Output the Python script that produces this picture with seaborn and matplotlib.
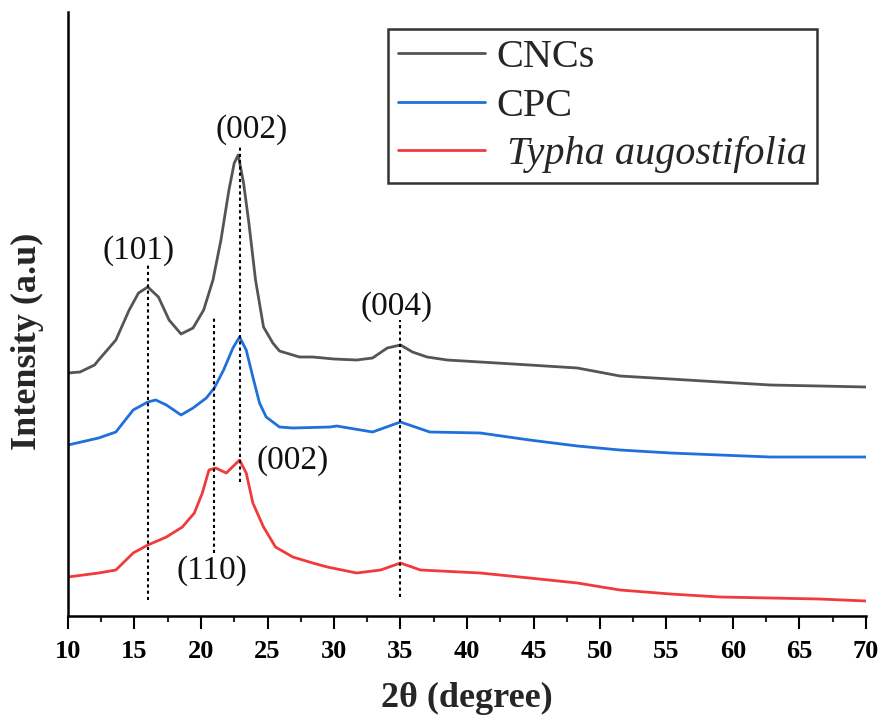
import matplotlib
matplotlib.use("Agg")
import matplotlib.pyplot as plt
from matplotlib.ticker import MultipleLocator
import seaborn as sns
import numpy as np

# XRD patterns (2θ in degrees, intensity in arbitrary stacked units)
cncs_2theta = [10.0, 10.9, 12.0, 12.3, 13.6, 14.6, 15.3, 16.0, 16.8, 17.6, 18.5, 19.4,
               20.2, 20.9, 21.5, 22.1, 22.5, 22.8, 23.2, 23.6, 24.1, 24.7, 25.4,
               25.9, 27.4, 28.4, 30.0, 31.7, 32.9, 34.0, 35.0, 35.9, 37.0, 38.5,
               41.0, 44.7, 48.3, 51.5, 55.3, 59.0, 62.8, 66.5, 70.0]
cncs_int = [243, 244, 251, 256, 276, 306, 323, 329, 319, 296, 282, 288,
            306, 336, 376, 426, 453, 461, 433, 393, 336, 289, 273,
            265, 259, 259, 257, 256, 258, 268, 271, 264, 259, 256,
            254, 251, 248, 240, 237, 234, 231, 230, 229]

cpc_2theta = [10.0, 12.3, 13.6, 14.9, 16.0, 16.6, 17.4, 18.5, 19.4, 20.4, 21.0, 21.7,
              22.4, 22.9, 23.4, 23.9, 24.4, 24.9, 25.9, 26.9, 29.7, 30.2, 32.9,
              35.0, 37.2, 41.0, 44.7, 48.3, 51.5, 55.3, 59.0, 62.8, 66.5, 70.0]
cpc_int = [171, 178, 184, 206, 214, 216, 211, 201, 208, 218, 228, 246,
           268, 279, 266, 239, 213, 199, 189, 188, 189, 190, 184,
           194, 184, 183, 176, 170, 166, 163, 161, 159, 159, 159]

typha_2theta = [10.0, 12.3, 13.6, 14.9, 16.0, 17.4, 18.6, 19.5, 20.1, 20.6, 21.1, 21.9,
                22.9, 23.4, 23.9, 24.7, 25.6, 26.9, 28.4, 29.5, 31.7, 33.5, 35.0,
                36.5, 41.0, 44.7, 48.3, 51.5, 55.3, 59.0, 62.8, 66.5, 70.0]
typha_int = [39, 43, 46, 63, 71, 79, 89, 103, 123, 146, 148, 143,
             156, 143, 113, 89, 69, 59, 53, 49, 43, 46, 53,
             46, 43, 38, 33, 26, 22, 19, 18, 17, 15]

series_names = ["CNCs", "CPC", " Typha augostifolia"]
series_colors = ["#555555", "#1f6fdc", "#ef3b3b"]

# Reference lines marking reflections: position, lower and upper extent
ref_pos = [16.0, 22.9, 21.0, 35.0]
ref_low = [16, 134, 63, 19]
ref_high = [351, 471, 298, 296]

# Miller index labels
hkl_text = ["(101)", "(002)", "(004)", "(002)", "(110)"]
hkl_x = [15.3, 23.8, 34.7, 26.9, 20.8]
hkl_y = [365, 486, 309, 155, 45]

x_ticks = list(range(10, 75, 5))

sns.set_style("ticks")
plt.rcParams["font.family"] = ["Liberation Serif", "DejaVu Serif"]

fig = plt.figure(figsize=(8.82, 7.19), dpi=100)
ax = fig.add_axes([68 / 882, 1 - 616 / 719, (866 - 68) / 882, (616 - 12) / 719])

for xs, ys, name, col in zip([cncs_2theta, cpc_2theta, typha_2theta],
                             [cncs_int, cpc_int, typha_int],
                             series_names, series_colors):
    sns.lineplot(x=xs, y=ys, ax=ax, color=col, lw=2.0, label=name, sort=False)

for xp, lo, hi in zip(ref_pos, ref_low, ref_high):
    ax.plot([xp, xp], [lo, hi], color="black", lw=1.5, linestyle=(0, (1.5, 1.5)))

for t, xp, yp in zip(hkl_text, hkl_x, hkl_y):
    ax.text(xp, yp, t, ha="center", va="center", fontsize=24, color="#111111")

ax.set_xlim(10, 70)
ax.set_ylim(0, 604)
ax.set_xticks(x_ticks)
ax.xaxis.set_minor_locator(MultipleLocator(2.5))
ax.set_yticks([])
ax.tick_params(axis="x", which="major", direction="out", length=9, width=1.5,
               labelsize=19, pad=8, colors="black")
ax.tick_params(axis="x", which="minor", direction="out", length=4, width=1.5)
for lab in ax.get_xticklabels():
    lab.set_fontweight("bold")

for side in ["top", "right"]:
    ax.spines[side].set_visible(False)
for side in ["left", "bottom"]:
    ax.spines[side].set_linewidth(1.8)
    ax.spines[side].set_color("black")

ax.set_xlabel("2θ (degree)", fontsize=26, fontweight="bold", labelpad=14)
ax.set_ylabel("Intensity (a.u)", fontsize=26, fontweight="bold")
ax.yaxis.set_label_coords(-0.03, 0.455)

leg = ax.legend(loc="upper left", bbox_to_anchor=(388 / 882, 1 - 29 / 719),
                bbox_transform=fig.transFigure, fontsize=29, frameon=True,
                fancybox=False, borderaxespad=0, handlelength=2.15,
                handletextpad=0.3, labelspacing=0.28, borderpad=0.25)
leg.get_frame().set_edgecolor("black")
leg.get_frame().set_linewidth(1.8)
leg.get_texts()[2].set_fontstyle("italic")

fig.savefig("out.png", dpi=100)
